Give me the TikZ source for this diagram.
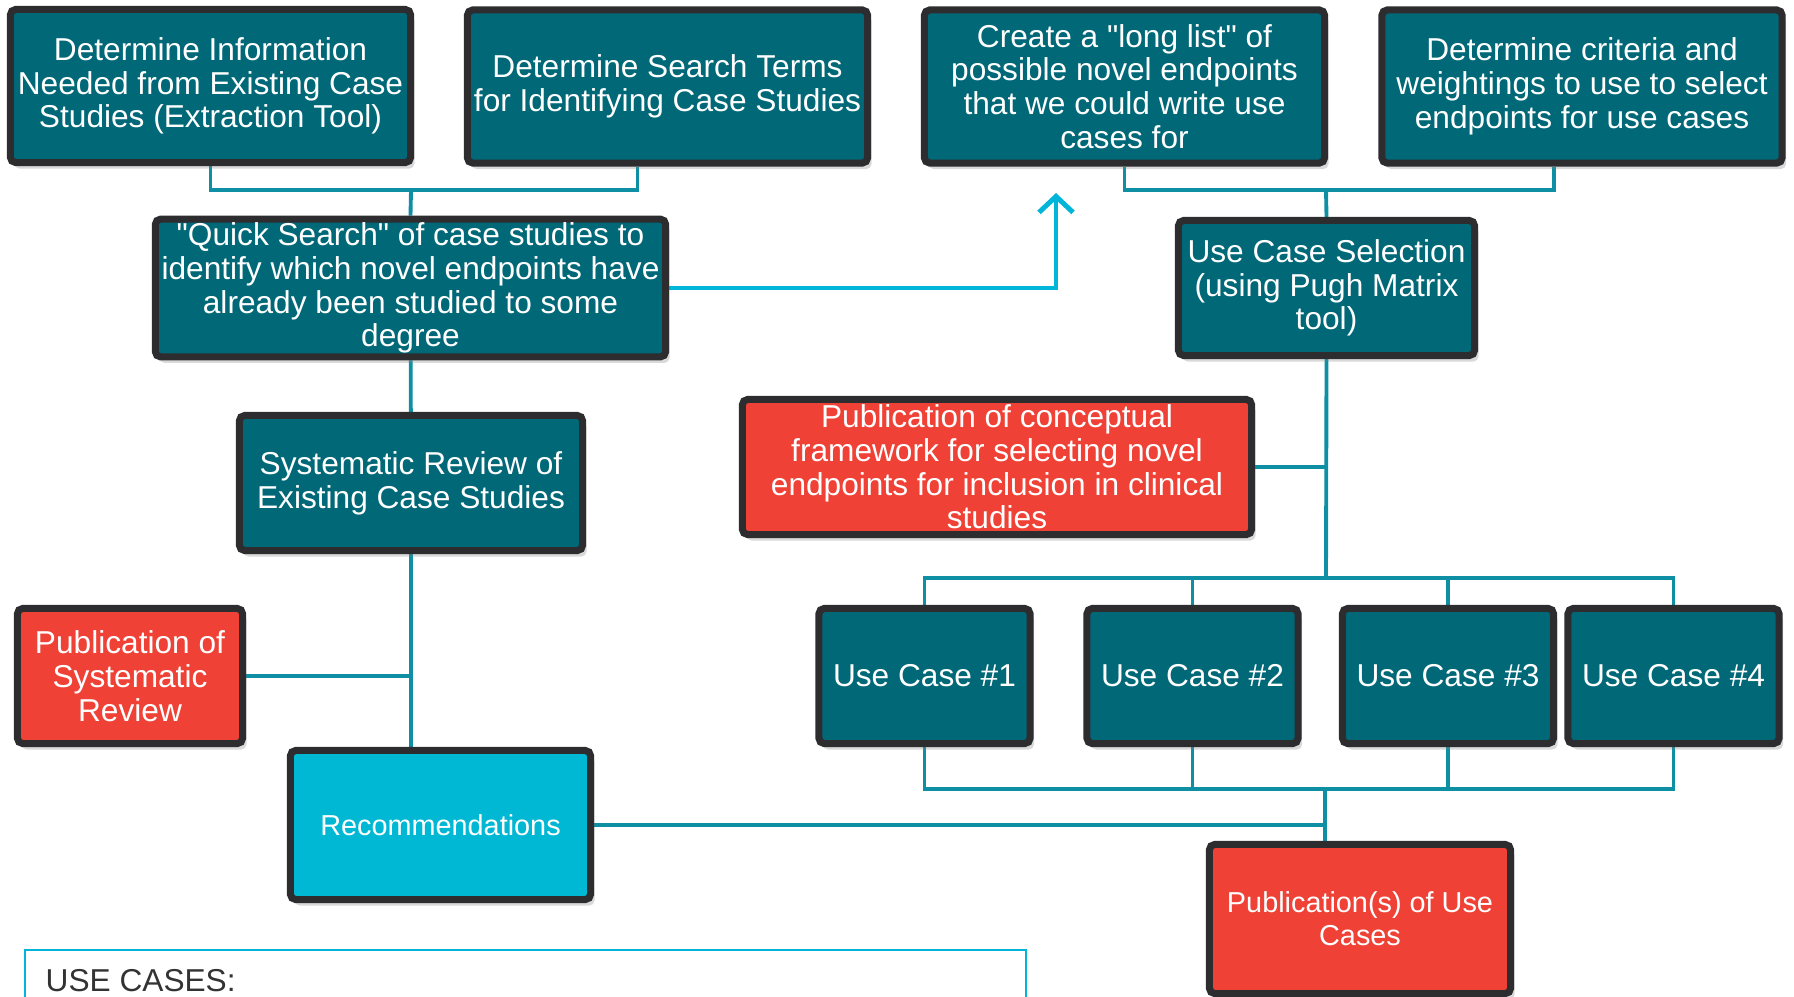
\documentclass[tikz,border=0pt]{standalone}
\usepackage{fontspec}
\setmainfont{Liberation Sans}[Ligatures=TeXOff]
\usetikzlibrary{arrows.meta,shadows}

\definecolor{boxteal}{RGB}{1,104,120}
\definecolor{boxedge}{RGB}{45,45,48}
\definecolor{boxred}{RGB}{239,65,54}
\definecolor{boxcyan}{RGB}{0,183,212}
\definecolor{linkteal}{RGB}{14,143,164}
\definecolor{arrowcyan}{RGB}{0,181,216}
\definecolor{labelgray}{RGB}{51,51,51}

\pgfdeclarelayer{background}
\pgfsetlayers{background,main}

\begin{document}
\begin{tikzpicture}[x=0.01cm,y=-0.01cm,
  box/.style={draw=boxedge,line width=2pt,rounded corners=1.5pt,text=white,align=center,
    inner sep=1pt,font=\fontsize{9}{9.6}\selectfont,
    drop shadow={opacity=0.3,shadow xshift=0.4mm,shadow yshift=-0.6mm}},
  tealbox/.style={box,fill=boxteal},
  redbox/.style={box,fill=boxred},
  cyanbox/.style={box,fill=boxcyan},
  topsize/.style={minimum width=4cm,minimum height=1.53cm},
  midsize/.style={minimum height=1.35cm},
  small/.style={font=\fontsize{8.2}{9.3}\selectfont},
  link/.style={draw=linkteal,line width=1.1pt},
  arrowlink/.style={draw=arrowcyan,line width=1.4pt,-{Straight Barb[length=1.6mm,width=3.4mm]}}]
\clip (0,0) rectangle (1794,996);

% top row
\node[tealbox,topsize] (info) at (210.5,86) {Determine Information\\Needed from Existing Case\\Studies (Extraction Tool)};
\node[tealbox,topsize] (terms) at (667.5,86.5) {Determine Search Terms\\for Identifying Case Studies};
\node[tealbox,topsize] (longlist) at (1124.5,86.5) {Create a "long list" of\\possible novel endpoints\\that we could write use\\cases for};
\node[tealbox,topsize] (criteria) at (1582,86.5) {Determine criteria and\\weightings to use to select\\endpoints for use cases};

\node[tealbox,midsize,minimum width=5.1cm] (quick) at (410.5,288) {"Quick Search" of case studies to\\identify which novel endpoints have\\already been studied to some\\degree};
\node[tealbox,midsize,minimum width=2.96cm] (pugh) at (1326.5,288) {Use Case Selection\\(using Pugh Matrix\\tool)};
\node[tealbox,midsize,minimum width=3.43cm] (sysrev) at (411,483) {Systematic Review of\\Existing Case Studies};
\node[redbox,midsize,minimum width=5.09cm] (framework) at (997,467) {Publication of conceptual\\framework for selecting novel\\endpoints for inclusion in clinical\\studies};
\node[redbox,midsize,minimum width=2.25cm] (pubsys) at (130,676) {Publication of\\Systematic\\Review};

% use cases
\foreach \i/\x in {1/924.5,2/1192.5,3/1448,4/1673.5}
  \node[tealbox,midsize,minimum width=2.11cm] (uc\i) at (\x,676) {Use Case \#\i};

\node[cyanbox,small,minimum width=3cm,minimum height=1.49cm] (rec) at (440.5,825) {Recommendations};
\node[redbox,small,minimum width=3.01cm,minimum height=1.49cm] (pubuc) at (1360,919) {Publication(s) of Use\\Cases};

\coordinate (j1) at (411,190);
\coordinate (j2) at (1326,190);
\coordinate (j3) at (1326,578);
\coordinate (j4) at (1325,789);
\coordinate (gap) at (1056,193);

\begin{pgfonlayer}{background}
\draw[link] (info.south) |- (j1) -| ([xshift=-0.3cm]terms.south);
\draw[link] (j1) -- (quick.north);
\draw[link] (longlist.south) |- (j2) -| ([xshift=-0.28cm]criteria.south);
\draw[link] (j2) -- (pugh.north);
\draw[arrowlink] (quick.east) -| (gap);
\draw[link] (quick) -- (sysrev);
\draw[link] (sysrev.south) -- (sysrev.south |- rec.north);
\draw[link] (pubsys.east) -- (pubsys.east -| sysrev.south);
\draw[link] (pugh.south) -- (j3);
\draw[link] (framework.east) -- (framework.east -| j3);
\draw[link] (uc1.north) |- (uc4.north |- j3) -- (uc4.north);
\draw[link] (uc2.north) -- (uc2.north |- j3);
\draw[link] (uc3.north) -- (uc3.north |- j3);
\draw[link] (uc1.south) |- (uc4.south |- j4) -- (uc4.south);
\draw[link] (uc2.south) -- (uc2.south |- j4);
\draw[link] (uc3.south) -- (uc3.south |- j4);
\draw[link] (j4) -- (j4 |- pubuc.north);
\draw[link] (rec.east) -- (rec.east -| j4);
\end{pgfonlayer}

% legend frame
\draw[arrowcyan,line width=0.8pt] (25,950) rectangle (1026,1040);
\node[anchor=base west,inner sep=0pt,text=labelgray,font=\fontsize{9}{11}\selectfont] (uclabel) at (45,991) {USE CASES:};
\end{tikzpicture}
\end{document}
